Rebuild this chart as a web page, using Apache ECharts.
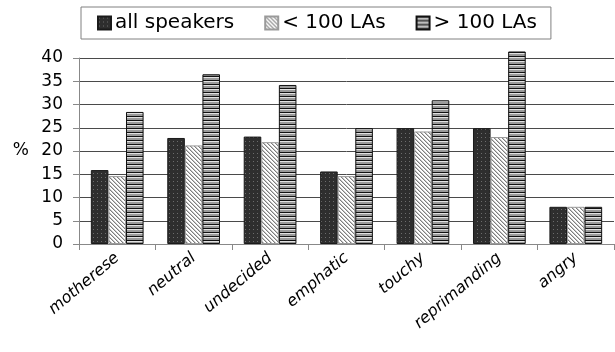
<!DOCTYPE html>
<html>
<head>
<meta charset="utf-8">
<script src="https://cdn.jsdelivr.net/npm/echarts@6/dist/echarts.min.js"></script>
<style>
  html, body { margin: 0; padding: 0; background: #fff; }
  #chart { width: 615px; height: 352px; }
</style>
</head>
<body>
<div id="chart"></div>
<script>
// Emotion categories and the share (%) of each among three speaker groups
const categories = ['motherese', 'neutral', 'undecided', 'emphatic', 'touchy', 'reprimanding', 'angry'];
const seriesNames = ['all speakers', '< 100 LAs', '> 100 LAs'];
const allSpeakers = [15.9, 22.8, 23.1, 15.6, 24.9, 24.9, 8.0];
const below100 = [14.6, 21.2, 21.9, 14.6, 24.2, 23.0, 8.0];
const above100 = [28.4, 36.5, 34.2, 24.9, 30.9, 41.4, 8.0];
const yTicks = { min: 0, max: 40, step: 5 };

// Small repeating tiles used as bar fills
function tile(size, paint) {
  const c = document.createElement('canvas');
  c.width = size; c.height = size;
  const ctx = c.getContext('2d');
  paint(ctx, size);
  return { image: c, repeat: 'repeat' };
}

// dark fill with faint light dots
const dotted = tile(4, (ctx, s) => {
  ctx.fillStyle = '#2e2e2e'; ctx.fillRect(0, 0, s, s);
  ctx.fillStyle = '#6c6c6c'; ctx.fillRect(1, 1, 1, 1);
});

// light diagonal hatching running top-left to bottom-right
const hatched = tile(4, (ctx, s) => {
  ctx.fillStyle = '#ffffff'; ctx.fillRect(0, 0, s, s);
  for (let y = 0; y < s; y++) {
    for (let x = 0; x < s; x++) {
      const d = ((x - y) % s + s) % s;
      if (d === 0) { ctx.fillStyle = '#7e7e7e'; ctx.fillRect(x, y, 1, 1); }
      else if (d === 1) { ctx.fillStyle = '#c6c6c6'; ctx.fillRect(x, y, 1, 1); }
    }
  }
});

// horizontal rules: black line, pale line, grey band
const striped = tile(4, (ctx, s) => {
  ctx.fillStyle = '#111111'; ctx.fillRect(0, 0, s, 1);
  ctx.fillStyle = '#e2e2e2'; ctx.fillRect(0, 1, s, 1);
  ctx.fillStyle = '#9a9a9a'; ctx.fillRect(0, 2, s, 2);
});

const font = 'DejaVu Sans';

const chart = echarts.init(document.getElementById('chart'), null, { renderer: 'canvas' });

function barSeries(name, data, fill, border) {
  return {
    name: name,
    type: 'bar',
    data: data,
    clip: false,
    barGap: '0%',
    barCategoryGap: '31%',
    itemStyle: { color: fill, borderColor: border, borderWidth: 1 },
    emphasis: { disabled: true }
  };
}

chart.setOption({
  animation: false,
  backgroundColor: '#ffffff',
  legend: {
    left: 81,
    top: 7,
    padding: [6, 14, 6, 16],
    itemWidth: 13,
    itemHeight: 13,
    itemGap: 30,
    icon: 'rect',
    borderColor: '#808080',
    borderWidth: 1,
    textStyle: { fontFamily: font, fontSize: 20, color: '#000', padding: [0, 0, 0, -1] },
    data: seriesNames
  },
  grid: { left: 79, right: 1, top: 58, bottom: 108 },
  xAxis: {
    type: 'category',
    data: categories,
    axisLine: { lineStyle: { color: '#888', width: 1 } },
    axisTick: { show: true, length: 6, lineStyle: { color: '#888' } },
    axisLabel: {
      interval: 0,
      rotate: 40,
      margin: 12,
      fontFamily: font,
      fontStyle: 'italic',
      fontSize: 16,
      color: '#000'
    }
  },
  yAxis: {
    type: 'value',
    min: yTicks.min,
    max: yTicks.max,
    interval: yTicks.step,
    name: '%',
    nameLocation: 'middle',
    nameRotate: 0,
    nameGap: 50,
    nameTextStyle: { fontFamily: font, fontSize: 17, color: '#000' },
    axisLine: { show: true, lineStyle: { color: '#888', width: 1 } },
    axisTick: { show: true, length: 6, lineStyle: { color: '#888' } },
    axisLabel: { fontFamily: font, fontSize: 17, color: '#000', margin: 16 },
    splitLine: { show: true, lineStyle: { color: '#4a4a4a', width: 1 } }
  },
  series: [
    barSeries(seriesNames[0], allSpeakers, dotted, '#1a1a1a'),
    barSeries(seriesNames[1], below100, hatched, '#9a9a9a'),
    barSeries(seriesNames[2], above100, striped, '#111111')
  ]
});
</script>
</body>
</html>
